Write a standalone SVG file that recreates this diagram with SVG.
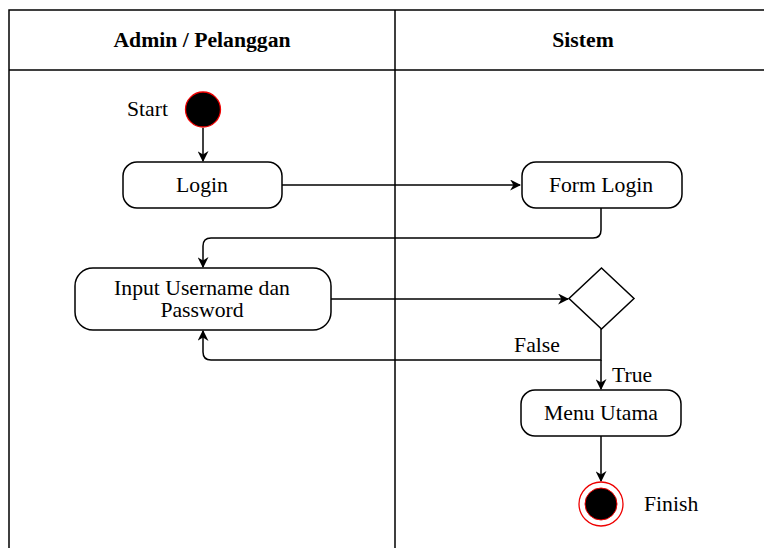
<svg xmlns="http://www.w3.org/2000/svg" width="764" height="548" viewBox="0 0 764 548">
<style>
text{font-family:"Liberation Serif","DejaVu Serif","Noto Serif",serif;font-size:21.7px;fill:#000}
.h{font-weight:bold}
.node{fill:#fff;stroke:#000;stroke-width:1.5}
.lane{fill:none;stroke:#000;stroke-width:1.5}
.edge{fill:none;stroke:#000;stroke-width:1.5}
</style>
<defs>
<marker id="arr" viewBox="0 0 10 10" refX="9" refY="5" markerWidth="11" markerHeight="11" markerUnits="userSpaceOnUse" orient="auto">
<path d="M0,0 L10,5 L0,10 L3,5 Z" fill="#000"/>
</marker>
</defs>
<g id="lanes">
<path class="lane" d="M9,548 V10 H764 M9,70 H764 M395,10 V548"/>
<text class="h" x="202" y="47" text-anchor="middle">Admin / Pelanggan</text>
<text class="h" x="583" y="47" text-anchor="middle">Sistem</text>
</g>
<g id="edges">
<path class="edge" d="M203,128 V161" marker-end="url(#arr)"/>
<path class="edge" d="M282,185 H520" marker-end="url(#arr)"/>
<path class="edge" d="M601,208 V230 Q601,238 593,238 H211 Q203,238 203,246 V267" marker-end="url(#arr)"/>
<path class="edge" d="M331,299 H568" marker-end="url(#arr)"/>
<path class="edge" d="M601,329 V360 H211 Q203,360 203,352 V331" marker-end="url(#arr)"/>
<path class="edge" d="M601,360 V389" marker-end="url(#arr)"/>
<path class="edge" d="M601,436 V481" marker-end="url(#arr)"/>
<text x="537" y="352" text-anchor="middle">False</text>
<text x="612" y="382">True</text>
</g>
<g id="start">
<circle cx="203" cy="109.5" r="17.5" fill="#000" stroke="#e00" stroke-width="1.3"/>
<text x="147.5" y="116" text-anchor="middle">Start</text>
</g>
<g id="login">
<rect class="node" x="123" y="162" width="159" height="46" rx="14"/>
<text x="202" y="192" text-anchor="middle">Login</text>
</g>
<g id="formlogin">
<rect class="node" x="522" y="162" width="160" height="46" rx="14"/>
<text x="601" y="192" text-anchor="middle">Form Login</text>
</g>
<g id="input">
<rect class="node" x="75" y="268" width="256" height="62" rx="18"/>
<text x="202" y="295" text-anchor="middle">Input Username dan</text>
<text x="202" y="317" text-anchor="middle">Password</text>
</g>
<g id="decision">
<path class="node" d="M601.5,268 L634,298.5 L601.5,329 L569,298.5 Z"/>
</g>
<g id="menu">
<rect class="node" x="521" y="390" width="160" height="46" rx="14"/>
<text x="601" y="420" text-anchor="middle">Menu Utama</text>
</g>
<g id="finish">
<circle cx="601" cy="504" r="22" fill="#fff" stroke="#e00" stroke-width="1.3"/>
<circle cx="601" cy="504" r="16" fill="#000" stroke="#e00" stroke-width="1"/>
<text x="644" y="511">Finish</text>
</g>
</svg>
